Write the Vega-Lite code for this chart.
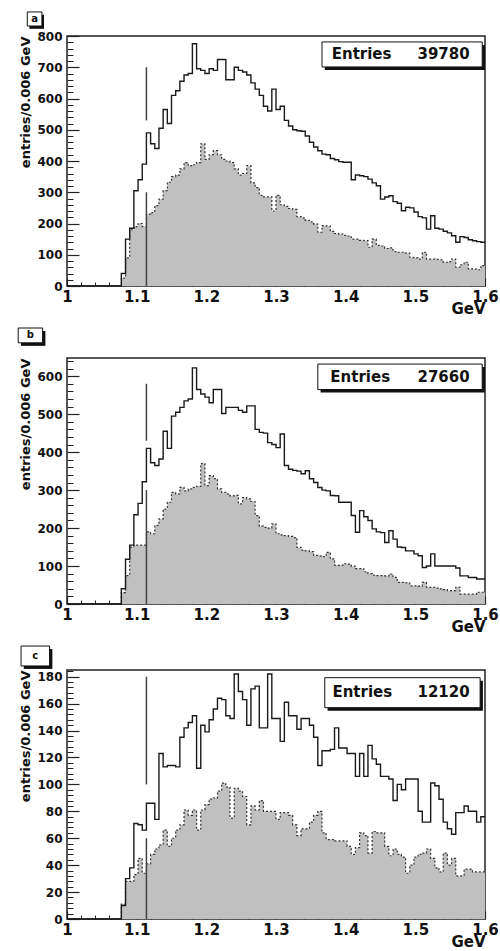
{
"$schema": "https://vega.github.io/schema/vega-lite/v6.json",
"background": "white",
"padding": {"top": 10, "left": 16, "right": 5, "bottom": 0},
"spacing": 9,
"config": {"view": {"stroke": "#222", "strokeWidth": 1.5}, "axis": {"tickColor": "#222", "grid": false, "domain": false, "zindex": 1}},
"datasets": {
"h": [
{"m":1.000,"au":0,"al":0,"bu":0,"bl":0,"cu":0,"cl":0},
{"m":1.006,"au":0,"al":0,"bu":0,"bl":0,"cu":0,"cl":0},
{"m":1.012,"au":0,"al":0,"bu":0,"bl":0,"cu":0,"cl":0},
{"m":1.018,"au":0,"al":0,"bu":0,"bl":0,"cu":0,"cl":0},
{"m":1.024,"au":0,"al":0,"bu":0,"bl":0,"cu":0,"cl":0},
{"m":1.030,"au":0,"al":0,"bu":0,"bl":0,"cu":0,"cl":0},
{"m":1.036,"au":0,"al":0,"bu":0,"bl":0,"cu":0,"cl":0},
{"m":1.042,"au":0,"al":0,"bu":0,"bl":0,"cu":0,"cl":0},
{"m":1.048,"au":0,"al":0,"bu":0,"bl":0,"cu":0,"cl":0},
{"m":1.054,"au":0,"al":0,"bu":0,"bl":0,"cu":0,"cl":0},
{"m":1.060,"au":0,"al":0,"bu":0,"bl":0,"cu":0,"cl":0},
{"m":1.066,"au":0,"al":0,"bu":0,"bl":0,"cu":0,"cl":0},
{"m":1.072,"au":0,"al":0,"bu":0,"bl":0,"cu":0,"cl":0},
{"m":1.078,"au":40,"al":25,"bu":40,"bl":30,"cu":10,"cl":11},
{"m":1.084,"au":150,"al":90,"bu":118,"bl":75,"cu":30,"cl":28},
{"m":1.090,"au":185,"al":180,"bu":155,"bl":150,"cu":38,"cl":28},
{"m":1.096,"au":305,"al":190,"bu":235,"bl":155,"cu":71,"cl":33},
{"m":1.102,"au":340,"al":200,"bu":265,"bl":155,"cu":70,"cl":45},
{"m":1.108,"au":390,"al":190,"bu":322,"bl":155,"cu":66,"cl":34},
{"m":1.114,"au":490,"al":230,"bu":410,"bl":190,"cu":86,"cl":41},
{"m":1.120,"au":455,"al":235,"bu":372,"bl":185,"cu":86,"cl":48},
{"m":1.126,"au":440,"al":257,"bu":365,"bl":207,"cu":74,"cl":52},
{"m":1.132,"au":505,"al":278,"bu":382,"bl":224,"cu":123,"cl":55},
{"m":1.138,"au":565,"al":305,"bu":455,"bl":250,"cu":113,"cl":66},
{"m":1.144,"au":520,"al":332,"bu":410,"bl":268,"cu":114,"cl":54},
{"m":1.150,"au":610,"al":350,"bu":495,"bl":294,"cu":114,"cl":60},
{"m":1.156,"au":625,"al":355,"bu":505,"bl":290,"cu":113,"cl":66},
{"m":1.162,"au":655,"al":375,"bu":518,"bl":307,"cu":135,"cl":70},
{"m":1.168,"au":675,"al":395,"bu":535,"bl":298,"cu":142,"cl":81},
{"m":1.174,"au":680,"al":385,"bu":540,"bl":303,"cu":146,"cl":77},
{"m":1.180,"au":775,"al":388,"bu":622,"bl":307,"cu":151,"cl":81},
{"m":1.186,"au":695,"al":395,"bu":565,"bl":310,"cu":112,"cl":66},
{"m":1.192,"au":690,"al":455,"bu":553,"bl":370,"cu":144,"cl":81},
{"m":1.198,"au":680,"al":405,"bu":545,"bl":312,"cu":139,"cl":85},
{"m":1.204,"au":695,"al":420,"bu":530,"bl":338,"cu":148,"cl":89},
{"m":1.210,"au":690,"al":433,"bu":565,"bl":330,"cu":156,"cl":90},
{"m":1.216,"au":725,"al":420,"bu":565,"bl":303,"cu":164,"cl":95},
{"m":1.222,"au":725,"al":405,"bu":502,"bl":294,"cu":163,"cl":101},
{"m":1.228,"au":660,"al":400,"bu":518,"bl":290,"cu":151,"cl":98},
{"m":1.234,"au":660,"al":395,"bu":518,"bl":285,"cu":149,"cl":75},
{"m":1.240,"au":700,"al":375,"bu":518,"bl":286,"cu":182,"cl":97},
{"m":1.246,"au":690,"al":355,"bu":510,"bl":264,"cu":169,"cl":95},
{"m":1.252,"au":685,"al":360,"bu":505,"bl":280,"cu":163,"cl":91},
{"m":1.258,"au":675,"al":385,"bu":522,"bl":277,"cu":144,"cl":70},
{"m":1.264,"au":650,"al":330,"bu":522,"bl":270,"cu":171,"cl":84},
{"m":1.270,"au":630,"al":315,"bu":460,"bl":233,"cu":173,"cl":81},
{"m":1.276,"au":610,"al":290,"bu":452,"bl":205,"cu":142,"cl":88},
{"m":1.282,"au":575,"al":285,"bu":450,"bl":202,"cu":142,"cl":80},
{"m":1.288,"au":560,"al":285,"bu":425,"bl":200,"cu":182,"cl":80},
{"m":1.294,"au":630,"al":240,"bu":420,"bl":211,"cu":149,"cl":80},
{"m":1.300,"au":565,"al":290,"bu":412,"bl":185,"cu":149,"cl":74},
{"m":1.306,"au":575,"al":260,"bu":448,"bl":182,"cu":132,"cl":79},
{"m":1.312,"au":530,"al":255,"bu":365,"bl":180,"cu":161,"cl":79},
{"m":1.318,"au":512,"al":248,"bu":355,"bl":178,"cu":151,"cl":77},
{"m":1.324,"au":500,"al":245,"bu":352,"bl":175,"cu":151,"cl":70},
{"m":1.330,"au":497,"al":222,"bu":350,"bl":149,"cu":141,"cl":62},
{"m":1.336,"au":495,"al":218,"bu":343,"bl":142,"cu":149,"cl":67},
{"m":1.342,"au":480,"al":210,"bu":351,"bl":140,"cu":149,"cl":67},
{"m":1.348,"au":460,"al":205,"bu":330,"bl":138,"cu":144,"cl":72},
{"m":1.354,"au":445,"al":198,"bu":320,"bl":128,"cu":135,"cl":77},
{"m":1.360,"au":433,"al":172,"bu":307,"bl":127,"cu":114,"cl":80},
{"m":1.366,"au":422,"al":193,"bu":300,"bl":125,"cu":125,"cl":64},
{"m":1.372,"au":420,"al":192,"bu":298,"bl":136,"cu":125,"cl":59},
{"m":1.378,"au":408,"al":175,"bu":286,"bl":119,"cu":126,"cl":59},
{"m":1.384,"au":404,"al":168,"bu":285,"bl":102,"cu":142,"cl":58},
{"m":1.390,"au":398,"al":166,"bu":268,"bl":102,"cu":127,"cl":58},
{"m":1.396,"au":396,"al":162,"bu":268,"bl":106,"cu":127,"cl":58},
{"m":1.402,"au":396,"al":160,"bu":268,"bl":105,"cu":123,"cl":54},
{"m":1.408,"au":340,"al":150,"bu":233,"bl":100,"cu":123,"cl":48},
{"m":1.414,"au":355,"al":150,"bu":189,"bl":93,"cu":106,"cl":53},
{"m":1.420,"au":353,"al":146,"bu":246,"bl":93,"cu":123,"cl":64},
{"m":1.426,"au":350,"al":145,"bu":230,"bl":85,"cu":106,"cl":62},
{"m":1.432,"au":342,"al":124,"bu":220,"bl":80,"cu":129,"cl":49},
{"m":1.438,"au":330,"al":150,"bu":198,"bl":76,"cu":119,"cl":65},
{"m":1.444,"au":321,"al":130,"bu":190,"bl":75,"cu":115,"cl":64},
{"m":1.450,"au":278,"al":128,"bu":188,"bl":75,"cu":106,"cl":64},
{"m":1.456,"au":285,"al":120,"bu":162,"bl":74,"cu":106,"cl":54},
{"m":1.462,"au":289,"al":122,"bu":193,"bl":79,"cu":104,"cl":47},
{"m":1.468,"au":270,"al":110,"bu":171,"bl":70,"cu":88,"cl":52},
{"m":1.474,"au":265,"al":108,"bu":150,"bl":57,"cu":100,"cl":48},
{"m":1.480,"au":241,"al":108,"bu":149,"bl":57,"cu":96,"cl":46},
{"m":1.486,"au":252,"al":105,"bu":140,"bl":56,"cu":104,"cl":34},
{"m":1.492,"au":250,"al":92,"bu":140,"bl":48,"cu":104,"cl":40},
{"m":1.498,"au":237,"al":90,"bu":132,"bl":48,"cu":104,"cl":46},
{"m":1.504,"au":222,"al":86,"bu":127,"bl":47,"cu":80,"cl":48},
{"m":1.510,"au":218,"al":108,"bu":96,"bl":57,"cu":72,"cl":49},
{"m":1.516,"au":182,"al":86,"bu":100,"bl":44,"cu":72,"cl":52},
{"m":1.522,"au":225,"al":86,"bu":132,"bl":44,"cu":101,"cl":45},
{"m":1.528,"au":185,"al":85,"bu":100,"bl":42,"cu":99,"cl":38},
{"m":1.534,"au":182,"al":84,"bu":100,"bl":40,"cu":89,"cl":35},
{"m":1.540,"au":175,"al":76,"bu":100,"bl":38,"cu":72,"cl":49},
{"m":1.546,"au":170,"al":78,"bu":100,"bl":35,"cu":67,"cl":40},
{"m":1.552,"au":161,"al":86,"bu":100,"bl":35,"cu":63,"cl":45},
{"m":1.558,"au":140,"al":60,"bu":95,"bl":44,"cu":79,"cl":32},
{"m":1.564,"au":158,"al":68,"bu":74,"bl":26,"cu":79,"cl":32},
{"m":1.570,"au":155,"al":76,"bu":74,"bl":26,"cu":84,"cl":37},
{"m":1.576,"au":148,"al":55,"bu":70,"bl":26,"cu":80,"cl":37},
{"m":1.582,"au":145,"al":54,"bu":70,"bl":26,"cu":80,"cl":35},
{"m":1.588,"au":142,"al":52,"bu":66,"bl":31,"cu":72,"cl":35},
{"m":1.594,"au":140,"al":65,"bu":66,"bl":31,"cu":76,"cl":35},
{"m":1.600,"au":140,"al":65,"bu":66,"bl":31,"cu":76,"cl":35}
],
"rules": [
{"p":"a","m":1.114,"lo":530,"hi":700},
{"p":"a","m":1.114,"lo":0,"hi":300},
{"p":"b","m":1.114,"lo":430,"hi":580},
{"p":"b","m":1.114,"lo":0,"hi":300},
{"p":"c","m":1.114,"lo":100,"hi":180},
{"p":"c","m":1.114,"lo":0,"hi":60}
],
"info": [
{"p":"a","n":"39780"},
{"p":"b","n":"27660"},
{"p":"c","n":"12120"}
]
},
"vconcat": [
{
"width": 418, "height": 250,
"resolve": {"axis": {"x": "independent", "y": "independent"}},
"layer": [
{"data": {"name": "h"}, "mark": {"type": "area", "interpolate": "step-after", "color": "#c0c0c0"},
 "encoding": {
  "x": {"field": "m", "type": "quantitative", "scale": {"domain": [1, 1.6], "nice": false, "zero": false},
   "axis": {"orient": "bottom", "values": [1,1.1,1.2,1.3,1.4,1.5,1.6], "format": "~g", "tickSize": -8, "tickWidth": 1.2,
    "labelFont": "DejaVu Sans", "labelFontWeight": "bold", "labelFontSize": 15, "labelColor": "#111", "labelPadding": 11,
    "labelFlush": false, "labelOverlap": false, "labelBound": false,
    "title": "GeV", "titleAnchor": "end", "titleFont": "DejaVu Sans", "titleFontWeight": "bold", "titleFontSize": 15, "titleColor": "#111", "titlePadding": -3}},
  "y": {"field": "al", "type": "quantitative", "scale": {"domain": [0, 800], "nice": false},
   "axis": {"orient": "left", "values": [0,100,200,300,400,500,600,700,800], "tickSize": -12, "tickWidth": 1.2,
    "labelFont": "DejaVu Sans", "labelFontWeight": "bold", "labelFontSize": 12, "labelColor": "#111", "labelPadding": 17, "labelOverlap": false, "labelBound": false, "labelFlush": false,
    "title": "entries/0.006 GeV", "titleAnchor": "end", "titleFont": "DejaVu Sans", "titleFontWeight": "bold", "titleFontSize": 13, "titleColor": "#111", "titlePadding": 4}}
 }},
{"data": {"name": "h"}, "mark": {"type": "line", "interpolate": "step-after", "color": "#333", "strokeWidth": 1.2, "strokeDash": [2, 2]},
 "encoding": {
  "x": {"field": "m", "type": "quantitative", "axis": {"orient": "bottom", "values": [1.02,1.04,1.06,1.08,1.12,1.14,1.16,1.18,1.22,1.24,1.26,1.28,1.32,1.34,1.36,1.38,1.42,1.44,1.46,1.48,1.52,1.54,1.56,1.58], "tickSize": -4, "labels": false, "title": null}},
  "y": {"field": "al", "type": "quantitative", "axis": {"orient": "left", "values": [20,40,60,80,120,140,160,180,220,240,260,280,320,340,360,380,420,440,460,480,520,540,560,580,620,640,660,680,720,740,760,780], "tickSize": -6, "labels": false, "title": null}}}},
{"data": {"name": "h"}, "mark": {"type": "line", "interpolate": "step-after", "color": "#1a1a1a", "strokeWidth": 1.4},
 "encoding": {"x": {"field": "m", "type": "quantitative", "axis": null}, "y": {"field": "au", "type": "quantitative", "axis": null}}},
{"data": {"name": "rules"}, "transform": [{"filter": "datum.p === 'a'"}], "mark": {"type": "rule", "color": "#444", "strokeWidth": 1.5},
 "encoding": {"x": {"field": "m", "type": "quantitative", "axis": null}, "y": {"field": "lo", "type": "quantitative", "axis": null}, "y2": {"field": "hi"}}},
{"data": {"name": "info"}, "transform": [{"filter": "datum.p === 'a'"}], "mark": {"type": "rect", "color": "#111"},
 "encoding": {"x": {"datum": 1.370, "axis": null}, "x2": {"datum": 1.600}, "y": {"datum": 771, "axis": null}, "y2": {"datum": 691}}},
{"data": {"name": "info"}, "transform": [{"filter": "datum.p === 'a'"}], "mark": {"type": "rect", "fill": "white", "stroke": "#111", "strokeWidth": 1},
 "encoding": {"x": {"datum": 1.366, "axis": null}, "x2": {"datum": 1.596}, "y": {"datum": 781, "axis": null}, "y2": {"datum": 701}}},
{"data": {"name": "info"}, "transform": [{"filter": "datum.p === 'a'"}], "mark": {"type": "text", "align": "left", "baseline": "middle", "font": "DejaVu Sans", "fontWeight": "bold", "fontSize": 15, "color": "#111", "text": "Entries"},
 "encoding": {"x": {"datum": 1.380, "axis": null}, "y": {"datum": 741, "axis": null}}},
{"data": {"name": "info"}, "transform": [{"filter": "datum.p === 'a'"}], "mark": {"type": "text", "align": "right", "baseline": "middle", "font": "DejaVu Sans", "fontWeight": "bold", "fontSize": 15, "color": "#111"},
 "encoding": {"x": {"datum": 1.578, "axis": null}, "y": {"datum": 741, "axis": null}, "text": {"field": "n", "type": "nominal"}}},
{"data": {"name": "info"}, "transform": [{"filter": "datum.p === 'a'"}], "mark": {"type": "rect", "color": "#111"},
 "encoding": {"x": {"datum": 0.946, "axis": null}, "x2": {"datum": 0.967}, "y": {"datum": 868, "axis": null}, "y2": {"datum": 823}}},
{"data": {"name": "info"}, "transform": [{"filter": "datum.p === 'a'"}], "mark": {"type": "rect", "fill": "white", "stroke": "#111", "strokeWidth": 1},
 "encoding": {"x": {"datum": 0.943, "axis": null}, "x2": {"datum": 0.964}, "y": {"datum": 877, "axis": null}, "y2": {"datum": 832}}},
{"data": {"name": "info"}, "transform": [{"filter": "datum.p === 'a'"}], "mark": {"type": "text", "align": "center", "baseline": "middle", "font": "DejaVu Sans", "fontWeight": "bold", "fontSize": 10, "color": "#111"},
 "encoding": {"x": {"datum": 0.9535, "axis": null}, "y": {"datum": 855, "axis": null}, "text": {"field": "p", "type": "nominal"}}}
]
},
{
"width": 418, "height": 246,
"resolve": {"axis": {"x": "independent", "y": "independent"}},
"layer": [
{"data": {"name": "h"}, "mark": {"type": "area", "interpolate": "step-after", "color": "#c0c0c0"},
 "encoding": {
  "x": {"field": "m", "type": "quantitative", "scale": {"domain": [1, 1.6], "nice": false, "zero": false},
   "axis": {"orient": "bottom", "values": [1,1.1,1.2,1.3,1.4,1.5,1.6], "format": "~g", "tickSize": -8, "tickWidth": 1.2,
    "labelFont": "DejaVu Sans", "labelFontWeight": "bold", "labelFontSize": 15, "labelColor": "#111", "labelPadding": 11,
    "labelFlush": false, "labelOverlap": false, "labelBound": false,
    "title": "GeV", "titleAnchor": "end", "titleFont": "DejaVu Sans", "titleFontWeight": "bold", "titleFontSize": 15, "titleColor": "#111", "titlePadding": -3}},
  "y": {"field": "bl", "type": "quantitative", "scale": {"domain": [0, 648], "nice": false},
   "axis": {"orient": "left", "values": [0,100,200,300,400,500,600], "tickSize": -12, "tickWidth": 1.2,
    "labelFont": "DejaVu Sans", "labelFontWeight": "bold", "labelFontSize": 12, "labelColor": "#111", "labelPadding": 17, "labelOverlap": false, "labelBound": false, "labelFlush": false,
    "title": "entries/0.006 GeV", "titleAnchor": "end", "titleFont": "DejaVu Sans", "titleFontWeight": "bold", "titleFontSize": 13, "titleColor": "#111", "titlePadding": 4}}
 }},
{"data": {"name": "h"}, "mark": {"type": "line", "interpolate": "step-after", "color": "#333", "strokeWidth": 1.2, "strokeDash": [2, 2]},
 "encoding": {
  "x": {"field": "m", "type": "quantitative", "axis": {"orient": "bottom", "values": [1.02,1.04,1.06,1.08,1.12,1.14,1.16,1.18,1.22,1.24,1.26,1.28,1.32,1.34,1.36,1.38,1.42,1.44,1.46,1.48,1.52,1.54,1.56,1.58], "tickSize": -4, "labels": false, "title": null}},
  "y": {"field": "bl", "type": "quantitative", "axis": {"orient": "left", "values": [20,40,60,80,120,140,160,180,220,240,260,280,320,340,360,380,420,440,460,480,520,540,560,580,620,640], "tickSize": -6, "labels": false, "title": null}}}},
{"data": {"name": "h"}, "mark": {"type": "line", "interpolate": "step-after", "color": "#1a1a1a", "strokeWidth": 1.4},
 "encoding": {"x": {"field": "m", "type": "quantitative", "axis": null}, "y": {"field": "bu", "type": "quantitative", "axis": null}}},
{"data": {"name": "rules"}, "transform": [{"filter": "datum.p === 'b'"}], "mark": {"type": "rule", "color": "#444", "strokeWidth": 1.5},
 "encoding": {"x": {"field": "m", "type": "quantitative", "axis": null}, "y": {"field": "lo", "type": "quantitative", "axis": null}, "y2": {"field": "hi"}}},
{"data": {"name": "info"}, "transform": [{"filter": "datum.p === 'b'"}], "mark": {"type": "rect", "color": "#111"},
 "encoding": {"x": {"datum": 1.364, "axis": null}, "x2": {"datum": 1.600}, "y": {"datum": 624, "axis": null}, "y2": {"datum": 557}}},
{"data": {"name": "info"}, "transform": [{"filter": "datum.p === 'b'"}], "mark": {"type": "rect", "fill": "white", "stroke": "#111", "strokeWidth": 1},
 "encoding": {"x": {"datum": 1.360, "axis": null}, "x2": {"datum": 1.596}, "y": {"datum": 632, "axis": null}, "y2": {"datum": 565}}},
{"data": {"name": "info"}, "transform": [{"filter": "datum.p === 'b'"}], "mark": {"type": "text", "align": "left", "baseline": "middle", "font": "DejaVu Sans", "fontWeight": "bold", "fontSize": 15, "color": "#111", "text": "Entries"},
 "encoding": {"x": {"datum": 1.378, "axis": null}, "y": {"datum": 598, "axis": null}}},
{"data": {"name": "info"}, "transform": [{"filter": "datum.p === 'b'"}], "mark": {"type": "text", "align": "right", "baseline": "middle", "font": "DejaVu Sans", "fontWeight": "bold", "fontSize": 15, "color": "#111"},
 "encoding": {"x": {"datum": 1.578, "axis": null}, "y": {"datum": 598, "axis": null}, "text": {"field": "n", "type": "nominal"}}},
{"data": {"name": "info"}, "transform": [{"filter": "datum.p === 'b'"}], "mark": {"type": "rect", "color": "#111"},
 "encoding": {"x": {"datum": 0.934, "axis": null}, "x2": {"datum": 0.969}, "y": {"datum": 719, "axis": null}, "y2": {"datum": 680}}},
{"data": {"name": "info"}, "transform": [{"filter": "datum.p === 'b'"}], "mark": {"type": "rect", "fill": "white", "stroke": "#111", "strokeWidth": 1},
 "encoding": {"x": {"datum": 0.930, "axis": null}, "x2": {"datum": 0.965}, "y": {"datum": 727, "axis": null}, "y2": {"datum": 688}}},
{"data": {"name": "info"}, "transform": [{"filter": "datum.p === 'b'"}], "mark": {"type": "text", "align": "center", "baseline": "middle", "font": "DejaVu Sans", "fontWeight": "bold", "fontSize": 10, "color": "#111"},
 "encoding": {"x": {"datum": 0.9475, "axis": null}, "y": {"datum": 708, "axis": null}, "text": {"field": "p", "type": "nominal"}}}
]
},
{
"width": 418, "height": 249,
"resolve": {"axis": {"x": "independent", "y": "independent"}},
"layer": [
{"data": {"name": "h"}, "mark": {"type": "area", "interpolate": "step-after", "color": "#c0c0c0"},
 "encoding": {
  "x": {"field": "m", "type": "quantitative", "scale": {"domain": [1, 1.6], "nice": false, "zero": false},
   "axis": {"orient": "bottom", "values": [1,1.1,1.2,1.3,1.4,1.5,1.6], "format": "~g", "tickSize": -8, "tickWidth": 1.2,
    "labelFont": "DejaVu Sans", "labelFontWeight": "bold", "labelFontSize": 15, "labelColor": "#111", "labelPadding": 11,
    "labelFlush": false, "labelOverlap": false, "labelBound": false,
    "title": "GeV", "titleAnchor": "end", "titleFont": "DejaVu Sans", "titleFontWeight": "bold", "titleFontSize": 15, "titleColor": "#111", "titlePadding": -3}},
  "y": {"field": "cl", "type": "quantitative", "scale": {"domain": [0, 185], "nice": false},
   "axis": {"orient": "left", "values": [0,20,40,60,80,100,120,140,160,180], "tickSize": -12, "tickWidth": 1.2,
    "labelFont": "DejaVu Sans", "labelFontWeight": "bold", "labelFontSize": 12, "labelColor": "#111", "labelPadding": 17, "labelOverlap": false, "labelBound": false, "labelFlush": false,
    "title": "entries/0.006 GeV", "titleAnchor": "end", "titleFont": "DejaVu Sans", "titleFontWeight": "bold", "titleFontSize": 13, "titleColor": "#111", "titlePadding": 4}}
 }},
{"data": {"name": "h"}, "mark": {"type": "line", "interpolate": "step-after", "color": "#333", "strokeWidth": 1.2, "strokeDash": [2, 2]},
 "encoding": {
  "x": {"field": "m", "type": "quantitative", "axis": {"orient": "bottom", "values": [1.02,1.04,1.06,1.08,1.12,1.14,1.16,1.18,1.22,1.24,1.26,1.28,1.32,1.34,1.36,1.38,1.42,1.44,1.46,1.48,1.52,1.54,1.56,1.58], "tickSize": -4, "labels": false, "title": null}},
  "y": {"field": "cl", "type": "quantitative", "axis": {"orient": "left", "values": [4,8,12,16,24,28,32,36,44,48,52,56,64,68,72,76,84,88,92,96,104,108,112,116,124,128,132,136,144,148,152,156,164,168,172,176,184], "tickSize": -6, "labels": false, "title": null}}}},
{"data": {"name": "h"}, "mark": {"type": "line", "interpolate": "step-after", "color": "#1a1a1a", "strokeWidth": 1.4},
 "encoding": {"x": {"field": "m", "type": "quantitative", "axis": null}, "y": {"field": "cu", "type": "quantitative", "axis": null}}},
{"data": {"name": "rules"}, "transform": [{"filter": "datum.p === 'c'"}], "mark": {"type": "rule", "color": "#444", "strokeWidth": 1.5},
 "encoding": {"x": {"field": "m", "type": "quantitative", "axis": null}, "y": {"field": "lo", "type": "quantitative", "axis": null}, "y2": {"field": "hi"}}},
{"data": {"name": "info"}, "transform": [{"filter": "datum.p === 'c'"}], "mark": {"type": "rect", "color": "#111"},
 "encoding": {"x": {"datum": 1.374, "axis": null}, "x2": {"datum": 1.597}, "y": {"datum": 177, "axis": null}, "y2": {"datum": 154.8}}},
{"data": {"name": "info"}, "transform": [{"filter": "datum.p === 'c'"}], "mark": {"type": "rect", "fill": "white", "stroke": "#111", "strokeWidth": 1},
 "encoding": {"x": {"datum": 1.370, "axis": null}, "x2": {"datum": 1.593}, "y": {"datum": 179.3, "axis": null}, "y2": {"datum": 157}}},
{"data": {"name": "info"}, "transform": [{"filter": "datum.p === 'c'"}], "mark": {"type": "text", "align": "left", "baseline": "middle", "font": "DejaVu Sans", "fontWeight": "bold", "fontSize": 15, "color": "#111", "text": "Entries"},
 "encoding": {"x": {"datum": 1.381, "axis": null}, "y": {"datum": 168.3, "axis": null}}},
{"data": {"name": "info"}, "transform": [{"filter": "datum.p === 'c'"}], "mark": {"type": "text", "align": "right", "baseline": "middle", "font": "DejaVu Sans", "fontWeight": "bold", "fontSize": 15, "color": "#111"},
 "encoding": {"x": {"datum": 1.578, "axis": null}, "y": {"datum": 168.3, "axis": null}, "text": {"field": "n", "type": "nominal"}}},
{"data": {"name": "info"}, "transform": [{"filter": "datum.p === 'c'"}], "mark": {"type": "rect", "color": "#111"},
 "encoding": {"x": {"datum": 0.938, "axis": null}, "x2": {"datum": 0.979}, "y": {"datum": 200.6, "axis": null}, "y2": {"datum": 185.8}}},
{"data": {"name": "info"}, "transform": [{"filter": "datum.p === 'c'"}], "mark": {"type": "rect", "fill": "white", "stroke": "#111", "strokeWidth": 1},
 "encoding": {"x": {"datum": 0.934, "axis": null}, "x2": {"datum": 0.975}, "y": {"datum": 202.8, "axis": null}, "y2": {"datum": 188}}},
{"data": {"name": "info"}, "transform": [{"filter": "datum.p === 'c'"}], "mark": {"type": "text", "align": "center", "baseline": "middle", "font": "DejaVu Sans", "fontWeight": "bold", "fontSize": 10, "color": "#111"},
 "encoding": {"x": {"datum": 0.9545, "axis": null}, "y": {"datum": 195.4, "axis": null}, "text": {"field": "p", "type": "nominal"}}}
]
}
]
}
